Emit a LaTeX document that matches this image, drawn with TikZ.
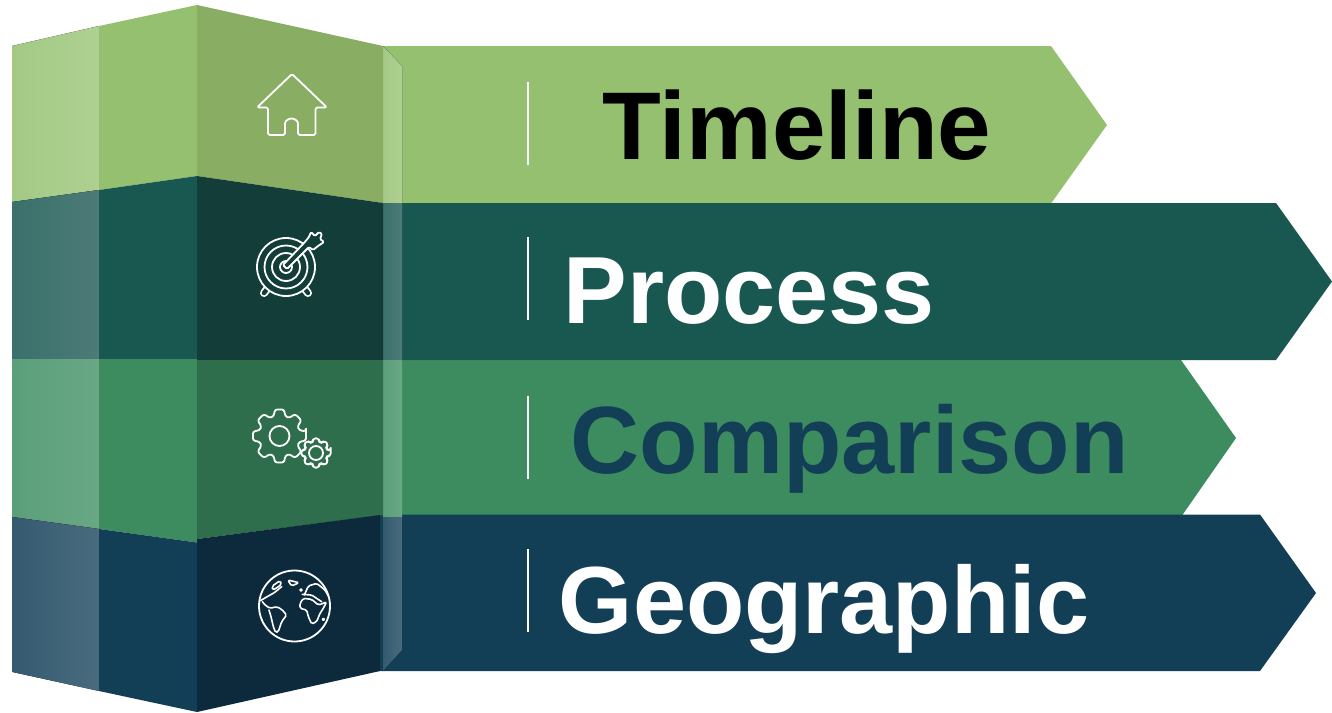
\documentclass[tikz,border=0pt]{standalone}
\usepackage{fontspec}
\setmainfont{Liberation Sans}
\definecolor{gA}{HTML}{95C070}\definecolor{gAd}{HTML}{89AD63}\definecolor{gAl}{HTML}{A4C986}\definecolor{gAr}{HTML}{AED091}
\definecolor{tA}{HTML}{195751}\definecolor{tAd}{HTML}{123D39}\definecolor{tAl}{HTML}{3A706B}\definecolor{tAr}{HTML}{4D7B77}
\definecolor{mA}{HTML}{3D8C60}\definecolor{mAd}{HTML}{2E6E4C}\definecolor{mAl}{HTML}{5B9F7A}\definecolor{mAr}{HTML}{69A785}
\definecolor{nA}{HTML}{133F56}\definecolor{nAd}{HTML}{0D2A3C}\definecolor{nAl}{HTML}{345A70}\definecolor{nAr}{HTML}{4A6B7E}
\tikzset{
 label text/.style={anchor=base west,inner sep=0pt},
 divider/.style={draw=white,line width=0.75pt},
 icon/.style={draw=white,line width=0.9pt,line join=round,line cap=round},
 thin icon/.style={draw=white,line width=0.8pt,line join=round,line cap=round,rounded corners=0.8pt},
}
\newcommand{\labelfont}[1]{\fontsize{#1}{50}\selectfont\bfseries}
\newcommand{\gearicon}[6]{% cx cy rtip rroot face inner
 \filldraw[icon,fill=#5,rounded corners=1.3pt] ({#1+#3*cos(-10)},{#2+#3*sin(-10)})
  \foreach \k in {0,45,...,315}{
   -- ({#1+#3*cos(\k-10)},{#2+#3*sin(\k-10)}) -- ({#1+#3*cos(\k+10)},{#2+#3*sin(\k+10)})
   -- ({#1+#4*cos(\k+16)},{#2+#4*sin(\k+16)}) -- ({#1+#4*cos(\k+29)},{#2+#4*sin(\k+29)})
  } -- cycle;
 \draw[icon] (#1,#2) circle[radius=#6];
}
\begin{document}
\begin{tikzpicture}[x=0.5pt,y=-0.5pt]
\useasboundingbox (0,0) rectangle (1332,712);
% arrows
\fill[gA] (380,46) -- (1051,46) -- (1107,125) -- (1051,203.5) -- (380,203.5) -- cycle;
\fill[mA] (380,360) -- (1181,360) -- (1236,438) -- (1181,517) -- (380,517) -- cycle;
\fill[tA] (380,203) -- (1276,203) -- (1332,281.5) -- (1276,360) -- (380,360) -- cycle;
\fill[nA] (377,514.5) -- (1260,514.5) -- (1316,593) -- (1260,671) -- (377,671) -- cycle;
% light strip on the arrows
\fill[left color=gAl,right color=gAr] (383,46) -- (402,66) -- (402,203.5) -- (383,203.5) -- cycle;
\fill[left color=tAl,right color=tAr] (383,203.5) -- (402,203.5) -- (402,360) -- (383,360) -- cycle;
\fill[left color=mAl,right color=mAr] (383,360) -- (402,360) -- (402,517) -- (383,517) -- cycle;
\fill[left color=nAl,right color=nAr] (383,517) -- (402,517) -- (402,650) -- (383,671) -- cycle;
% block: band 1
\fill[left color=gAl,right color=gAr] (12,46) -- (99,26) -- (99,190) -- (12,202) -- cycle;
\fill[gA] (99,26) -- (197,5) -- (197,176) -- (99,190) -- cycle;
\fill[gAd] (197,5) -- (383,46) -- (383,203) -- (197,176) -- cycle;
% band 2
\fill[left color=tAl,right color=tAr] (12,202) -- (99,190) -- (99,359) -- (12,359) -- cycle;
\fill[tA] (99,190) -- (197,176) -- (197,359) -- (99,359) -- cycle;
\fill[tAd] (197,176) -- (383,203) -- (383,360) -- (197,360) -- cycle;
% band 3
\fill[left color=mAl,right color=mAr] (12,359) -- (99,359) -- (99,529) -- (12,517) -- cycle;
\fill[mA] (99,359) -- (197,359) -- (197,542.5) -- (99,529) -- cycle;
\fill[mAd] (197,360) -- (383,360) -- (383,515) -- (197,539) -- cycle;
% band 4
\fill[left color=nAl,right color=nAr] (12,517) -- (99,529) -- (99,691) -- (12.5,672) -- cycle;
\fill[nA] (99,529) -- (197,542.5) -- (197,712) -- (99,691) -- cycle;
\fill[nAd] (197,539) -- (380,515) -- (380,671) -- (197,712) -- cycle;
% dividers
\coordinate (d1a) at (528,82); \coordinate (d1b) at (528,165);
\coordinate (d2a) at (528,237); \coordinate (d2b) at (528,320);
\coordinate (d3a) at (528,396); \coordinate (d3b) at (528,479);
\coordinate (d4a) at (528,549); \coordinate (d4b) at (528,632);
\draw[divider] (d1a) -- (d1b); \draw[divider] (d2a) -- (d2b);
\draw[divider] (d3a) -- (d3b); \draw[divider] (d4a) -- (d4b);
% labels
\node[label text,text=black,font=\labelfont{48.1}] (timeline) at (602.5,159) {Timeline};
\node[label text,text=white,font=\labelfont{47.7}] (process) at (563,323) {Process};
\node[label text,text=nA,font=\labelfont{47.8}] (comparison) at (570.5,473) {Comparison};
\node[label text,text=white,font=\labelfont{47.7}] (geographic) at (558.5,633) {Geographic};
% house
\draw[icon,rounded corners=0.8pt] (292,74) -- (327,107.5) -- (315.5,107.5) -- (315.5,135) -- (298,135) -- (298,125) arc[start angle=0,end angle=-180,radius=6.5] -- (285,135) -- (268,135) -- (268,107.5) -- (257,107.5) -- cycle;
% target
\draw[white,line width=4pt,line cap=round] (271,284) -- (264,293);
\draw[tAd,line width=2.2pt,line cap=round] (271,284) -- (264,293);
\draw[white,line width=4pt,line cap=round] (301,284) -- (308,293);
\draw[tAd,line width=2.2pt,line cap=round] (301,284) -- (308,293);
\filldraw[icon,fill=tAd] (286,267) circle[radius=29];
\draw[icon] (286,267) circle[radius=21.5] (286,267) circle[radius=14] (286,267) circle[radius=6];
\filldraw[icon,fill=tAd,rounded corners=0.6pt] (283,265) -- (304,243) -- (309,237) -- (311,232) -- (315,236) -- (319,232) -- (322,234) -- (320,239) -- (324,242) -- (318,246) -- (313,250) -- (309,247) -- (287,269) -- cycle;
% gears
\gearicon{279.5}{436}{27}{20.5}{mAd}{10}
\gearicon{316}{453}{15}{11.5}{mAd}{7}
% globe
\draw[icon] (294.5,606) circle[radius=35.5];
\begin{scope}[shift={(245,560)},scale=1/3]
\draw[thin icon] (52,125) -- (60,135) -- (75,145) -- (95,140) -- (110,148) -- (125,165) -- (110,185) -- (100,215) -- (92,218) -- (85,200) -- (78,170) -- (72,150);
\draw[thin icon] (46,122) -- (70,108) -- (88,98) -- (110,80);
\draw[thin icon] (82,78) -- (105,62) -- (110,72) -- (95,84) -- (82,90) -- cycle;
\draw[thin icon] (128,60) -- (162,68) -- (140,78) -- cycle;
\draw[thin icon] (165,130) -- (175,115) -- (200,118) -- (220,135) -- (235,130) -- (245,125) -- (235,145) -- (225,160) -- (215,185) -- (200,192) -- (190,170) -- (185,150) -- (165,145) -- cycle;
\draw[thin icon] (178,105) -- (190,78) -- (215,70) -- (240,90) -- (250,108);
\draw[thin icon] (172,103) -- (200,105) -- (230,125);
\draw[thin icon] (168,90) circle[radius=3];
\draw[thin icon] (235,178) circle[radius=3];
\end{scope}
\end{tikzpicture}
\end{document}
